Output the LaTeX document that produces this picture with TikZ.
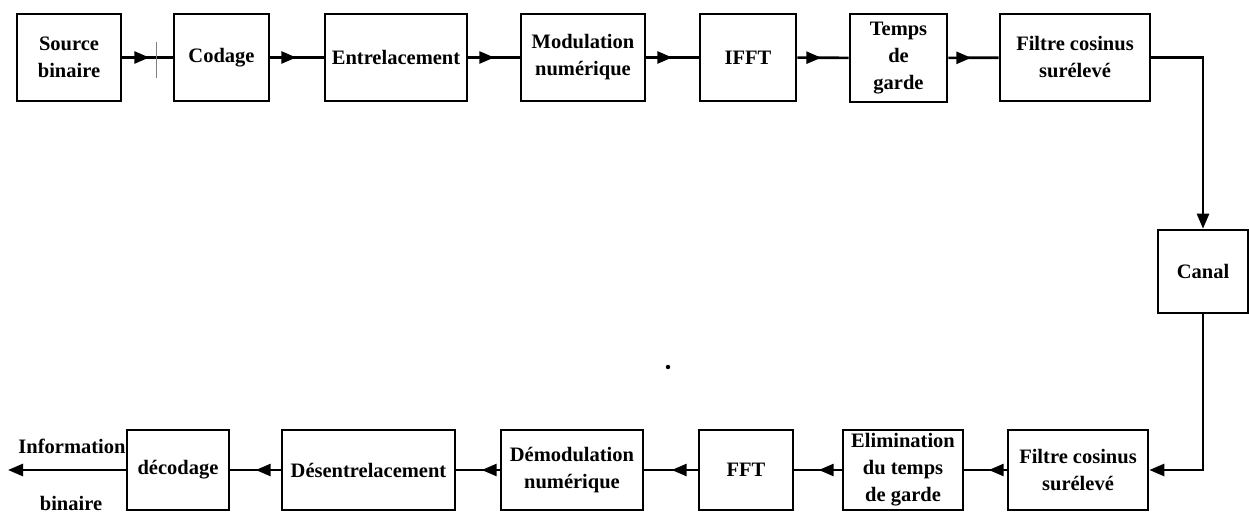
\documentclass[tikz,border=0pt]{standalone}
\usepackage{fontspec}
\setmainfont{Liberation Serif}
\usetikzlibrary{arrows.meta,decorations.markings}

\tikzset{
  blk/.style={draw, line width=2.6pt, align=center, inner sep=0pt,
    font=\fontsize{20.5}{27}\selectfont\bfseries},
  link/.style={line width=2.6pt},
  tipat/.style={postaction={decorate}, decoration={markings,
    mark=at position #1 with {\arrow{Triangle[length=15pt,width=12pt]}}}},
  endtip/.style={-{Triangle[length=15pt,width=12pt]}},
  lbl/.style={font=\fontsize{20.5}{27}\selectfont\bfseries, inner sep=0pt}
}

\begin{document}
\begin{tikzpicture}[x=1pt, y=-1pt]
\useasboundingbox (0,0) rectangle (1249,513);

% emission chain
\node[blk, minimum width=104pt, minimum height=87pt] (src)  at (69,57.5)    {Source\\binaire};
\node[blk, minimum width=95pt,  minimum height=87pt] (cod)  at (221.5,57.5) {Codage};
\node[blk, minimum width=142pt, minimum height=87pt] (ent)  at (396,57.5)   {Entrelacement};
\node[blk, minimum width=124pt, minimum height=87pt] (mod)  at (583,57.5)   {Modulation\\numérique};
\node[blk, minimum width=96pt,  minimum height=87pt] (ifft) at (748,57.5)   {IFFT};
\node[blk, minimum width=97pt,  minimum height=88pt] (tg)   at (898.5,58)   {Temps\\de\\garde};
\node[blk, minimum width=150pt, minimum height=87pt] (fil)  at (1075,57.5)  {Filtre cosinus\\surélevé};

% channel
\node[blk, minimum width=90pt, minimum height=83pt] (can) at (1203,271.5) {Canal};

% reception chain
\node[blk, minimum width=140pt, minimum height=80pt] (fil2) at (1078,470)  {Filtre cosinus\\surélevé};
\node[blk, minimum width=120pt, minimum height=80pt] (eli)  at (903,470)   {Elimination\\du temps\\de garde};
\node[blk, minimum width=94pt,  minimum height=80pt] (fft)  at (746,470)   {FFT};
\node[blk, minimum width=142pt, minimum height=80pt] (dem)  at (572,470)   {Démodulation\\numérique};
\node[blk, minimum width=173pt, minimum height=80pt] (des)  at (368.5,470) {Désentrelacement};
\node[blk, minimum width=102pt, minimum height=80pt] (dec)  at (178,470)   {décodage};

\coordinate (out) at (8,470);
\node[lbl] (info) at (72,446) {Information};
\node[lbl] (bin)  at (71,503) {binaire};

% emission links
\draw[link, tipat=27pt] (src) -- (cod);
\draw[line width=0.8pt, gray] (156,42) -- (156,78);
\draw[link, tipat=26pt] (cod) -- (ent);
\draw[link, tipat=26pt] (ent) -- (mod);
\draw[link, tipat=26pt] (mod) -- (ifft);
\draw[link, tipat=24pt] (ifft) -- (tg);
\draw[link, tipat=23pt] (tg) -- (fil);

% through the channel
\draw[link, endtip] (fil.east) -| (can.north);
\draw[link, endtip] (can.south) |- (fil2.east);

% reception links
\draw[link, tipat=18pt] (fil2) -- (eli);
\draw[link, tipat=23pt] (eli) -- (fft);
\draw[link, tipat=26pt] (fft) -- (dem);
\draw[link, tipat=18pt] (dem) -- (des);
\draw[link, tipat=25pt] (des) -- (dec);
\draw[link, endtip] (dec.west) -- (out);

\fill (668,367) circle (2.2pt);
\end{tikzpicture}
\end{document}
